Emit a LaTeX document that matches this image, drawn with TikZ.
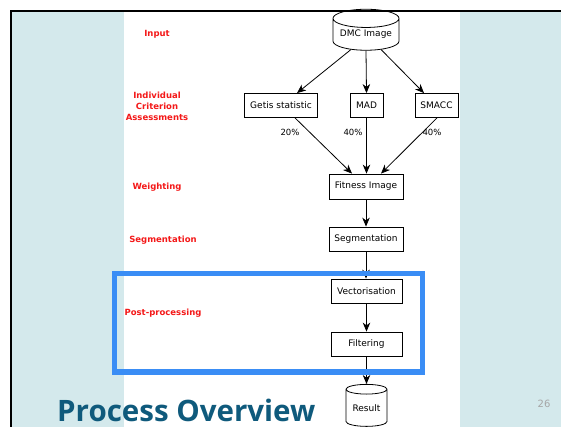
\documentclass[tikz,border=0pt]{standalone}
\usepackage{fontspec}
\setmainfont{DejaVu Sans}
\newfontfamily\titlefont{Open Sans}
\usetikzlibrary{shapes.geometric,arrows.meta}
\definecolor{strip}{HTML}{D4E9EC}
\definecolor{hibox}{HTML}{3A8DF5}
\definecolor{titleblue}{HTML}{0F5A7C}
\definecolor{lblred}{HTML}{F41818}
\tikzset{
  box/.style={draw, line width=0.8pt, rectangle, minimum height=24pt, inner sep=0pt, font=\fontsize{9}{10}\selectfont},
  store/.style={draw, line width=0.8pt, cylinder, shape border rotate=90, aspect=0.35, inner sep=0pt, font=\fontsize{9}{10}\selectfont},
  lbl/.style={text=lblred, font=\fontsize{8.5}{11}\selectfont\bfseries, align=center},
  pct/.style={font=\fontsize{8.5}{10}\selectfont},
  flow/.style={-{Stealth[length=9pt,width=7.5pt,inset=2.8pt]}, line width=0.8pt}
}
\begin{document}
\begin{tikzpicture}[x=1pt,y=-1pt]
\useasboundingbox (0,0) rectangle (561,427);
\clip (0,0) rectangle (561,427);
% background
\fill[white] (0,0) rectangle (561,427);
\fill[strip] (12,12) rectangle (124,427);
\fill[strip] (460,12) rectangle (561,427);
\draw[line width=2pt] (11,427) -- (11,11) -- (561,11);

% nodes
\node[store, minimum width=66pt, minimum height=41pt] (dmc) at (366,34.5) {DMC Image};
\node[box, minimum width=73pt] (getis) at (281,105.5) {Getis statistic};
\node[box, minimum width=33pt] (mad) at (366.5,105.5) {MAD};
\node[box, minimum width=43pt] (smacc) at (436.5,105.5) {SMACC};
\node[box, minimum width=74pt, minimum height=25pt] (fit) at (366,186.5) {Fitness Image};
\node[box, minimum width=74pt] (seg) at (366,239) {Segmentation};
\node[box, minimum width=71pt] (vec) at (366.5,291) {Vectorisation};
\node[box, minimum width=71pt] (filt) at (366.5,344) {Filtering};
\node[store, minimum width=41pt, minimum height=42pt] (res) at (366.5,408) {Result};

% connectors
\draw[flow] (dmc.225) -- (getis.north -| 297,0);
\draw[flow] (dmc.bottom) -- (mad.north);
\draw[flow] (dmc.315) -- (smacc.north -| 424,0);
\draw[flow] (getis.south -| 295,0) -- (fit.north -| 352,0);
\draw[flow] (mad.south) -- (fit.north -| 366.5,0);
\draw[flow] (smacc.south -| 437,0) -- (fit.north -| 381,0);
\draw[flow] (fit.south) -- (seg.north);
\draw[flow] (seg.south) -- (vec.north -| seg.south);
\draw[flow] (vec.south) -- (filt.north);
\draw[flow] (filt.south) -- (res.top);

% percentages
\node[pct] (p1) at (290,132) {20\%};
\node[pct] (p2) at (353,132) {40\%};
\node[pct] (p3) at (432,132) {40\%};

% highlight
\draw[hibox, line width=5.5pt] (114.5,273.5) rectangle (422.5,372);

% stage labels
\node[lbl] (l1) at (157,34) {Input};
\node[lbl] (l2) at (157,106) {Individual\\Criterion\\Assessments};
\node[lbl] (l3) at (157,187) {Weighting};
\node[lbl] (l4) at (163,240) {Segmentation};
\node[lbl] (l5) at (163,313) {Post-processing};

% title and page number
\node[anchor=base west, text=titleblue, font=\titlefont\fontsize{29.5}{31}\selectfont\bfseries, inner sep=0pt, text depth=0pt] (title) at (57,421) {Process Overview};
\node[text=gray!70, font=\fontsize{10}{12}\selectfont] (pg) at (544,404) {26};
\end{tikzpicture}
\end{document}
